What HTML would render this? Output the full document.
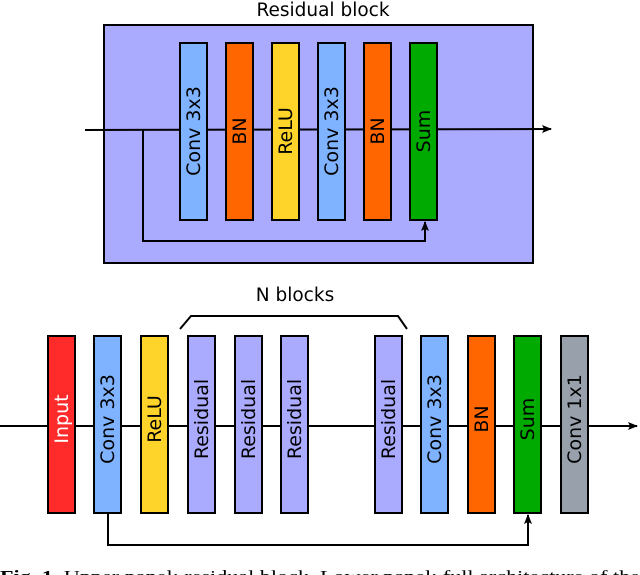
<!DOCTYPE html>
<html><head><style>body{margin:0;background:#fff}svg{display:block}</style></head><body>
<svg width="640" height="575" viewBox="0 0 640 575" xmlns="http://www.w3.org/2000/svg" font-family="DejaVu Sans, Liberation Sans, sans-serif">
<defs><marker id="a" markerWidth="10" markerHeight="8" refX="9" refY="4" orient="auto" markerUnits="userSpaceOnUse"><path d="M0,0 L10,4 L0,8 L2,4Z" fill="#000"/></marker></defs>
<text x="323" y="16" font-size="18.5" text-anchor="middle">Residual block</text>
<rect x="104" y="25" width="429" height="238" fill="#aaaaff" stroke="#000" stroke-width="2"/>
<line x1="85" y1="130" x2="551" y2="129" stroke="#000" stroke-width="2" marker-end="url(#a)"/>
<polyline points="143,130 143,241 425,241 425,222" fill="none" stroke="#000" stroke-width="2" marker-end="url(#a)"/>
<g stroke="#000" stroke-width="2">
<rect x="180" y="43" width="27" height="177" fill="#80b3ff"/>
<rect x="226" y="43" width="27" height="177" fill="#ff6600"/>
<rect x="272" y="43" width="27" height="177" fill="#ffd42a"/>
<rect x="318" y="43" width="27" height="177" fill="#80b3ff"/>
<rect x="364" y="43" width="27" height="177" fill="#ff6600"/>
<rect x="410" y="43" width="27" height="177" fill="#00aa00"/>
</g>
<g font-size="19" text-anchor="middle">
<text transform="translate(200,131) rotate(-90)">Conv 3x3</text>
<text transform="translate(246,131) rotate(-90)">BN</text>
<text transform="translate(292,131) rotate(-90)">ReLU</text>
<text transform="translate(338,131) rotate(-90)">Conv 3x3</text>
<text transform="translate(384,131) rotate(-90)">BN</text>
<text transform="translate(430,131) rotate(-90)">Sum</text>
</g>
<text x="295" y="301" font-size="18.5" text-anchor="middle">N blocks</text>
<polyline points="180,329 191,316 398,316 407,329" fill="none" stroke="#000" stroke-width="2"/>
<line x1="0" y1="426" x2="637" y2="426" stroke="#000" stroke-width="2" marker-end="url(#a)"/>
<polyline points="108,513 108,545 528,545 528,515" fill="none" stroke="#000" stroke-width="2" marker-end="url(#a)"/>
<g stroke="#000" stroke-width="2">
<rect x="48" y="336" width="27" height="177" fill="#ff2a2a"/>
<rect x="94" y="336" width="27" height="177" fill="#80b3ff"/>
<rect x="141" y="336" width="27" height="177" fill="#ffd42a"/>
<rect x="188" y="336" width="27" height="177" fill="#aaaaff"/>
<rect x="235" y="336" width="27" height="177" fill="#aaaaff"/>
<rect x="281" y="336" width="27" height="177" fill="#aaaaff"/>
<rect x="375" y="336" width="27" height="177" fill="#aaaaff"/>
<rect x="421" y="336" width="27" height="177" fill="#80b3ff"/>
<rect x="468" y="336" width="27" height="177" fill="#ff6600"/>
<rect x="514" y="336" width="27" height="177" fill="#00aa00"/>
<rect x="561" y="336" width="27" height="177" fill="#98a0ab"/>
</g>
<g font-size="19" text-anchor="middle">
<text transform="translate(68,419) rotate(-90)" fill="#fff">Input</text>
<text transform="translate(114,419) rotate(-90)">Conv 3x3</text>
<text transform="translate(161,419) rotate(-90)">ReLU</text>
<text transform="translate(208,419) rotate(-90)">Residual</text>
<text transform="translate(255,419) rotate(-90)">Residual</text>
<text transform="translate(301,419) rotate(-90)">Residual</text>
<text transform="translate(395,419) rotate(-90)">Residual</text>
<text transform="translate(441,419) rotate(-90)">Conv 3x3</text>
<text transform="translate(488,419) rotate(-90)">BN</text>
<text transform="translate(534,419) rotate(-90)">Sum</text>
<text transform="translate(581,419) rotate(-90)">Conv 1x1</text>
</g>
<text x="0" y="582" font-family="Liberation Serif, serif" font-size="17" textLength="640" lengthAdjust="spacingAndGlyphs"><tspan font-weight="bold">Fig. 1.</tspan> Upper panel: residual block. Lower panel: full architecture of the</text>
</svg>
</body></html>
